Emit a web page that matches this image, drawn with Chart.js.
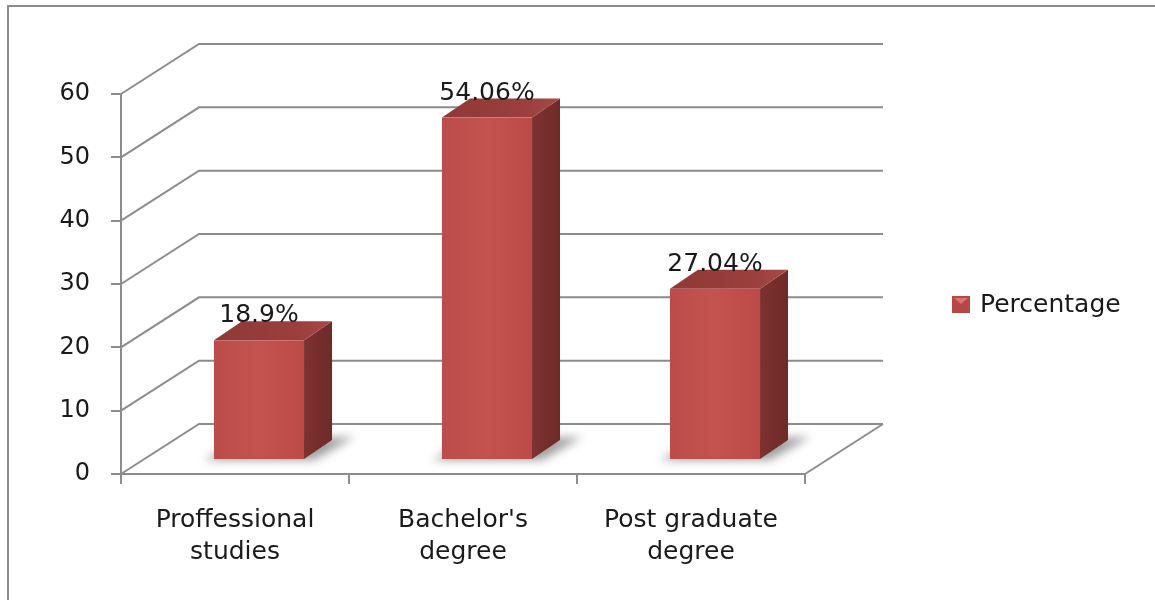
<!DOCTYPE html>
<html>
<head>
<meta charset="utf-8">
<script src="https://cdn.jsdelivr.net/npm/chart.js@4"></script>
<style>
  html, body { margin: 0; padding: 0; background: #fff; }
  #wrap { position: relative; width: 1155px; height: 600px; overflow: hidden; }
  #frame { position: absolute; left: 7px; top: 5px; width: 1200px; height: 700px; border: 2px solid #8c8c8c; box-sizing: border-box; }
  canvas { position: absolute; left: 0; top: 0; }
</style>
</head>
<body>
<div id="wrap">
  <div id="frame"></div>
  <canvas id="eduChart" width="1155" height="600"></canvas>
</div>
<script>
// Data
const categories = [['Proffessional', 'studies'], ["Bachelor's", 'degree'], ['Post graduate', 'degree']];
const seriesName = 'Percentage';
const percentages = [18.9, 54.06, 27.04];
const valueLabels = ['18.9%', '54.06%', '27.04%'];
const yTicks = [0, 10, 20, 30, 40, 50, 60];

const FONT = 'DejaVu Sans';
const GRID = '#8c8c8c';

// depth of the box (front axis -> back wall) and of the bars inside it
const WALL = { dx: 78, dy: -50 };
const BAR_FRONT = { dx: 24, dy: -14 };
const BAR_BACK = { dx: 52, dy: -33 };

function poly(ctx, pts) {
  ctx.beginPath();
  ctx.moveTo(pts[0][0], pts[0][1]);
  for (let i = 1; i < pts.length; i++) ctx.lineTo(pts[i][0], pts[i][1]);
  ctx.closePath();
}

// back wall gridlines, side diagonals and floor edge
const wallPlugin = {
  id: 'wall',
  beforeDatasetsDraw(chart) {
    const { ctx, chartArea: a, scales: { y } } = chart;
    ctx.save();
    ctx.strokeStyle = GRID;
    ctx.lineWidth = 2;
    yTicks.forEach(v => {
      const py = y.getPixelForValue(v);
      ctx.beginPath();
      ctx.moveTo(a.left, py);
      ctx.lineTo(a.left + WALL.dx, py + WALL.dy);
      ctx.lineTo(a.right + WALL.dx, py + WALL.dy);
      ctx.stroke();
    });
    ctx.beginPath();
    ctx.moveTo(a.right, a.bottom);
    ctx.lineTo(a.right + WALL.dx, a.bottom + WALL.dy);
    ctx.stroke();
    ctx.restore();
  }
};

// 3D boxes drawn on the bar elements' positions
const barPlugin = {
  id: 'bars3d',
  afterDatasetsDraw(chart) {
    const { ctx } = chart;
    const meta = chart.getDatasetMeta(0);
    const ddx = BAR_BACK.dx - BAR_FRONT.dx, ddy = BAR_BACK.dy - BAR_FRONT.dy;
    meta.data.forEach((bar, i) => {
      const x1 = bar.x - bar.width / 2 + BAR_FRONT.dx;
      const x2 = bar.x + bar.width / 2 + BAR_FRONT.dx;
      const yt = bar.y + BAR_FRONT.dy;
      const yb = bar.base + BAR_FRONT.dy;

      // soft shadow on the floor
      ctx.save();
      ctx.filter = 'blur(5px)';
      ctx.fillStyle = 'rgba(0,0,0,0.38)';
      poly(ctx, [[x1 - 10, yb + 1], [x2 + 10, yb + 1], [x2 + ddx + 22, yb + ddy - 3], [x1 + ddx, yb + ddy]]);
      ctx.fill();
      ctx.restore();

      ctx.save();
      // right side
      let g = ctx.createLinearGradient(x2, 0, x2 + ddx, 0);
      g.addColorStop(0, '#7d3230');
      g.addColorStop(1, '#6f2a28');
      ctx.fillStyle = g;
      poly(ctx, [[x2, yt], [x2 + ddx, yt + ddy], [x2 + ddx, yb + ddy], [x2, yb]]);
      ctx.fill();

      // top
      g = ctx.createLinearGradient(x1, 0, x2 + ddx, 0);
      g.addColorStop(0, '#8f3936');
      g.addColorStop(0.7, '#9a3f3c');
      g.addColorStop(1, '#a64a47');
      ctx.fillStyle = g;
      poly(ctx, [[x1, yt], [x1 + ddx, yt + ddy], [x2 + ddx, yt + ddy], [x2, yt]]);
      ctx.fill();

      // front
      g = ctx.createLinearGradient(x1, 0, x2, 0);
      g.addColorStop(0, '#bb4c49');
      g.addColorStop(0.5, '#c4534f');
      g.addColorStop(1, '#bc4b48');
      ctx.fillStyle = g;
      ctx.fillRect(x1, yt, x2 - x1, yb - yt);

      // value label
      ctx.fillStyle = '#1a1a1a';
      ctx.font = '25px "' + FONT + '"';
      ctx.textAlign = 'center';
      ctx.textBaseline = 'alphabetic';
      ctx.fillText(valueLabels[i], (x1 + x2) / 2, yt + ddy + 1);
      ctx.restore();
    });
  }
};

// legend on the right
const legendPlugin = {
  id: 'sideLegend',
  afterDraw(chart) {
    const { ctx } = chart;
    const bx = 952, by = 296, s = 18;
    ctx.save();
    ctx.fillStyle = '#b54744';
    ctx.fillRect(bx, by, s, s - 1);
    ctx.fillStyle = '#e0716d';
    poly(ctx, [[bx + 2, by + 2], [bx + s - 2, by + 2], [bx + s / 2, by + 8]]);
    ctx.fill();
    ctx.fillStyle = '#1a1a1a';
    ctx.font = '25px "' + FONT + '"';
    ctx.textAlign = 'left';
    ctx.textBaseline = 'middle';
    ctx.fillText(seriesName, 980, by + 9);
    ctx.restore();
  }
};

new Chart(document.getElementById('eduChart'), {
  type: 'bar',
  data: {
    labels: categories,
    datasets: [{
      label: seriesName,
      data: percentages,
      backgroundColor: 'rgba(0,0,0,0)',
      borderWidth: 0,
      categoryPercentage: 1,
      barPercentage: 0.395
    }]
  },
  options: {
    responsive: false,
    animation: false,
    layout: { padding: { left: 10, top: 94, right: 350, bottom: 10 } },
    plugins: { legend: { display: false }, tooltip: { enabled: false } },
    scales: {
      x: {
        afterFit: s => { s.height = 116; },
        grid: { offset: true, drawOnChartArea: false, color: GRID, lineWidth: 2, tickLength: 10 },
        border: { display: true, color: GRID, width: 2 },
        ticks: { color: '#1a1a1a', padding: 20, font: { family: FONT, size: 25, lineHeight: 1.28 } }
      },
      y: {
        min: 0,
        max: 60,
        afterFit: s => { s.width = 111; },
        afterBuildTicks: s => { s.ticks = yTicks.map(v => ({ value: v })); },
        grid: { drawOnChartArea: false, color: GRID, lineWidth: 2, tickLength: 10 },
        border: { display: true, color: GRID, width: 2 },
        ticks: { color: '#1a1a1a', padding: 21, font: { family: FONT, size: 24 } }
      }
    }
  },
  plugins: [wallPlugin, barPlugin, legendPlugin]
});
</script>
</body>
</html>
